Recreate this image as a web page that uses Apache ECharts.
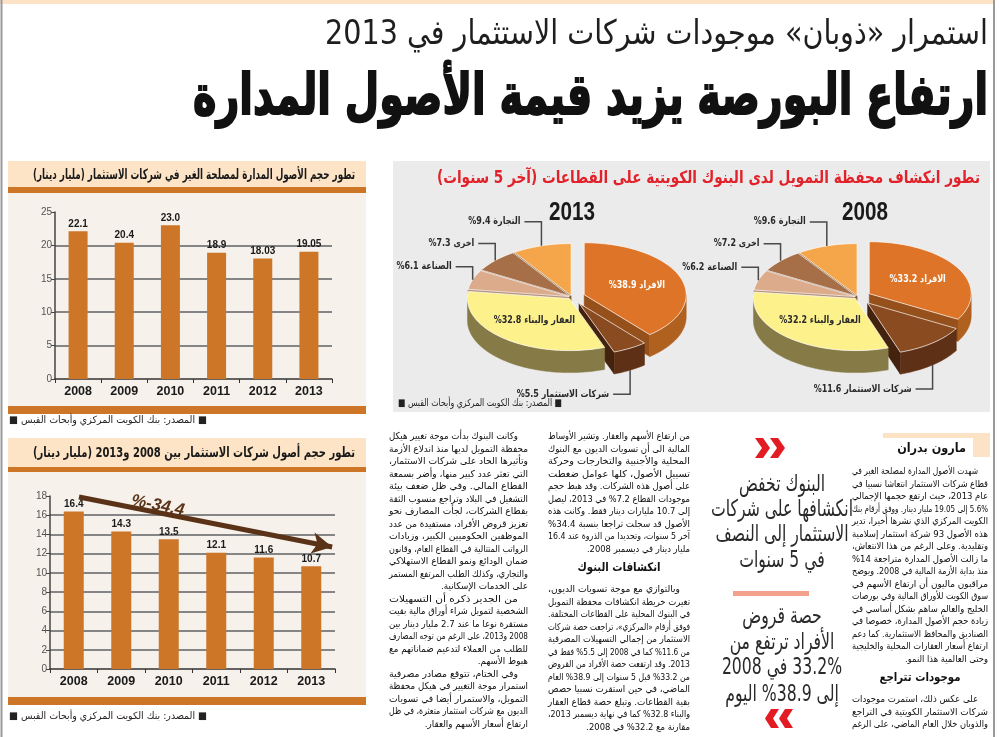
<!DOCTYPE html>
<html><head><meta charset="utf-8">
<script src="https://cdn.jsdelivr.net/npm/echarts@6.0.0/dist/echarts.min.js"></script>
<style>html,body{margin:0;padding:0;background:#fff}#c{width:1000px;height:737px;direction:rtl}</style>
</head><body><div id="c"></div>
<script>
// ---------------- DATA ----------------
const years = ['2008', '2009', '2010', '2011', '2012', '2013'];
const managedAssets = [22.1, 20.4, 23.0, 18.9, 18.03, 19.05];      // مليار دينار
const companyAssets = [16.4, 14.3, 13.5, 12.1, 11.6, 10.7];        // مليار دينار
const managedAxis = [0, 5, 10, 15, 20, 25];
const companyAxis = [0, 2, 4, 6, 8, 10, 12, 14, 16, 18];
const trendArrow = [[0.61, 17.9], [5.94, 12.7]];                    // in data units (hidden value x axis 0..6)
const trendLabelPos = [2.27, 17.0];
const trendLabel = '%-34.4';
const sectors = ['الافراد', 'شركات الاستثمار', 'العقار والبناء', 'الصناعة', 'اخرى', 'التجارة'];
const share2008 = [33.2, 11.6, 32.2, 6.2, 7.2, 9.6];
const share2013 = [38.9, 5.5, 32.8, 6.1, 7.3, 9.4];

const subtitleText = 'استمرار «ذوبان» موجودات شركات الاستثمار في 2013';
const headlineText = 'ارتفاع البورصة يزيد قيمة الأصول المدارة';
const pieTitle = 'تطور انكشاف محفظة التمويل لدى البنوك الكويتية على القطاعات (آخر 5 سنوات)';
const bar1Title = 'تطور حجم الأصول المدارة لمصلحة الغير في شركات الاستثمار (مليار دينار)';
const bar2Title = 'تطور حجم أصول شركات الاستثمار بين 2008 و2013 (مليار دينار)';
const sourceText = '■ المصدر: بنك الكويت المركزي وأبحاث القبس ■';
const authorName = 'مارون بدران';
const quoteTop = ['البنوك تخفض', 'انكشافها على شركات', 'الاستثمار إلى النصف', 'في 5 سنوات'];
const quoteBottom = ['حصة قروض', 'الأفراد ترتفع من', '33.2% في 2008', 'إلى 38.9% اليوم'];

const columnRight = [
  {indent: true, end: true, lines: [
    'شهدت الأصول المدارة لمصلحة الغير في',
    'قطاع شركات الاستثمار انتعاشا نسبيا في',
    'عام 2013، حيث ارتفع حجمها الإجمالي',
    '5.6% إلى 19.05 مليار دينار. ووفق أرقام بنك',
    'الكويت المركزي الذي نشرها أخيرا، تدير',
    'هذه الأصول 93 شركة استثمار إسلامية',
    'وتقليدية. وعلى الرغم من هذا الانتعاش،',
    'ما زالت الأصول المدارة متراجعة 14%',
    'منذ بداية الأزمة المالية في 2008. ويوضح',
    'مراقبون ماليون أن ارتفاع الأسهم في',
    'سوق الكويت للأوراق المالية وفي بورصات',
    'الخليج والعالم ساهم بشكل أساسي في',
    'زيادة حجم الأصول المدارة، خصوصا في',
    'الصناديق والمحافظ الاستثمارية. كما دعم',
    'ارتفاع أسعار العقارات المحلية والخليجية',
    'وحتى العالمية هذا النمو.']},
  {heading: 'موجودات تتراجع'},
  {indent: true, end: false, lines: [
    'على عكس ذلك، استمرت موجودات',
    'شركات الاستثمار الكويتية في التراجع',
    'والذوبان خلال العام الماضي، على الرغم']}
];
const columnB = [
  {indent: false, end: true, lines: [
    'من ارتفاع الأسهم والعقار. وتشير الأوساط',
    'المالية الى أن تسويات الديون مع البنوك',
    'المحلية والأجنبية والتخارجات وحركة',
    'تسييل الأصول، كلها عوامل ضغطت',
    'على أصول هذه الشركات. وقد هبط حجم',
    'موجودات القطاع 7.2% في 2013، ليصل',
    'إلى 10.7 مليارات دينار فقط. وكانت هذه',
    'الأصول قد سجلت تراجعا بنسبة 34.4%',
    'آخر 5 سنوات، وتحديدا من الذروة عند 16.4',
    'مليار دينار في ديسمبر 2008.']},
  {heading: 'انكشافات البنوك'},
  {indent: true, end: true, lines: [
    'وبالتوازي مع موجة تسويات الديون،',
    'تغيرت خريطة انكشافات محفظة التمويل',
    'في البنوك المحلية على القطاعات المختلفة.',
    'فوفق أرقام «المركزي»، تراجعت حصة شركات',
    'الاستثمار من إجمالي التسهيلات المصرفية',
    'من 11.6% كما في 2008 إلى 5.5% فقط في',
    '2013. وقد ارتفعت حصة الأفراد من القروض',
    'من 33.2% قبل 5 سنوات إلى 38.9% العام',
    'الماضي، في حين استقرت نسبيا حصص',
    'بقية القطاعات. وتبلغ حصة قطاع العقار',
    'والبناء 32.8% كما في نهاية ديسمبر 2013،',
    'مقارنة مع 32.2% في 2008.']}
];
const columnA = [
  {indent: true, end: true, lines: [
    'وكانت البنوك بدأت موجة تغيير هيكل',
    'محفظة التمويل لديها منذ اندلاع الأزمة',
    'وتأثيرها الحاد على شركات الاستثمار،',
    'التي تعثر عدد كبير منها، وأضر بسمعة',
    'القطاع المالي. وفي ظل ضعف بيئة',
    'التشغيل في البلاد وتراجع منسوب الثقة',
    'بقطاع الشركات، لجأت المصارف نحو',
    'تعزيز قروض الأفراد، مستفيدة من عدد',
    'الموظفين الحكوميين الكبير، وزيادات',
    'الرواتب المتتالية في القطاع العام، وقانون',
    'ضمان الودائع ونمو القطاع الاستهلاكي',
    'والتجاري، وكذلك الطلب المرتفع المستمر',
    'على الخدمات الإسكانية.']},
  {indent: true, end: true, lines: [
    'من الجدير ذكره أن التسهيلات',
    'الشخصية لتمويل شراء أوراق مالية بقيت',
    'مستقرة نوعا ما عند 2.7 مليار دينار بين',
    '2008 و2013، على الرغم من توجه المصارف',
    'للطلب من العملاء لتدعيم ضماناتهم مع',
    'هبوط الأسهم.']},
  {indent: true, end: true, lines: [
    'وفي الختام، تتوقع مصادر مصرفية',
    'استمرار موجة التغيير في هيكل محفظة',
    'التمويل، والاستمرار أيضا في تسويات',
    'الديون مع شركات استثمار متعثرة، في ظل',
    'ارتفاع أسعار الأسهم والعقار.']}
];

// ---------------- STYLE / HELPERS ----------------
const FA = '"DejaVu Sans", sans-serif';
const FL = '"Liberation Sans", Arial, sans-serif';
const ORANGE = '#cd7628';
const mctx = document.createElement('canvas').getContext('2d');
function measure(str, size, weight, fam, fstyle) {
  mctx.font = (fstyle || 'normal') + ' ' + (weight || 'normal') + ' ' + size + 'px ' + (fam || FA);
  return mctx.measureText(str).width;
}
function T(str, x, y, o) {
  o = o || {};
  const size = o.size || 10, weight = o.weight || 'normal', fam = o.fam || FA, fst = o.fstyle || 'normal';
  let sx = o.scale || 1;
  if (o.fit) sx = o.fit / measure(str, size, weight, fam, fst);
  const al = o.align || 'right';
  const st = {text: str, fill: o.color || '#222', font: fst + ' ' + weight + ' ' + size + 'px ' + fam,
      textAlign: al, align: al, textVerticalAlign: 'middle', verticalAlign: 'middle'};
  if (o.stroke) { st.stroke = o.stroke; st.lineWidth = o.strokeWidth || 1; }
  return {type: 'text', x: x, y: y, scaleX: sx, scaleY: o.scaleY || 1, z: o.z || 10, silent: true, rotation: o.rot || 0, style: st};
}
function R(x, y, w, h, fill, z) {
  return {type: 'rect', z: z == null ? -5 : z, silent: true, shape: {x: x, y: y, width: w, height: h}, style: {fill: fill}};
}
function L(x1, y1, x2, y2, color, w, z) {
  return {type: 'line', z: z || 1, silent: true, shape: {x1: x1, y1: y1, x2: x2, y2: y2}, style: {stroke: color, lineWidth: w}};
}
function chevron(x, y, w, h, t, right) {
  const p = right
    ? [[x, y], [x + t, y], [x + w, y + h / 2], [x + t, y + h], [x, y + h], [x + w - t, y + h / 2]]
    : [[x + w, y], [x + w - t, y], [x, y + h / 2], [x + w - t, y + h], [x + w, y + h], [x + t, y + h / 2]];
  return {type: 'polygon', z: 10, silent: true, shape: {points: p}, style: {fill: '#e31b23'}};
}

const graphics = [];
// page frame
graphics.push(R(0, 0, 993, 4, '#fde3c6'));
graphics.push(L(1.5, 0, 1.5, 737, '#9a9a9a', 2, 2));
graphics.push(L(994, 0, 994, 737, '#9a9a9a', 2, 2));
// headline
graphics.push(T(subtitleText, 988, 35, {size: 34, fit: 663, color: '#1e1e1e'}));
graphics.push(T(headlineText, 988, 99, {size: 56, weight: 'bold', fit: 795, color: '#111', stroke: '#111', strokeWidth: 2}));

// bar panels
function barPanel(yT, yTb, yO, yP, yB, title, srcY) {
  graphics.push(R(8, yT, 358, yTb - yT, '#fde4c6'));
  graphics.push(R(8, yTb, 358, yO - yTb, ORANGE));
  graphics.push(R(8, yO, 358, yP - yO, '#f6f1ea'));
  graphics.push(R(8, yP, 358, yB - yP, ORANGE));
  graphics.push(T(title, 355, (yT + yTb) / 2 + 1, {size: 14, weight: 'bold', fit: 322, color: '#1a1a1a'}));
  graphics.push(T(sourceText, 207, srcY, {size: 10, fit: 198, color: '#222'}));
}
barPanel(161, 187, 193, 406, 414, bar1Title, 420);
barPanel(438, 467, 472, 697, 705, bar2Title, 716);

// pie panel
graphics.push(R(393, 161, 597, 251, '#ebebeb'));
graphics.push(T(pieTitle, 980, 179, {size: 17, weight: 'bold', fit: 543, color: '#e2222a'}));
graphics.push(T('2013', 572, 213, {size: 26, weight: 'bold', fam: FL, fit: 46, align: 'center', color: '#1a1a1a'}));
graphics.push(T('2008', 865, 213, {size: 26, weight: 'bold', fam: FL, fit: 46, align: 'center', color: '#1a1a1a'}));
graphics.push(T(sourceText, 562, 403, {size: 10, fit: 164, color: '#222'}));

// pull quote
graphics.push(chevron(755, 438, 15, 20, 8, true));
graphics.push(chevron(770, 438, 15, 20, 8, true));
graphics.push(chevron(765, 709, 14, 19, 8, false));
graphics.push(chevron(779, 709, 14, 19, 8, false));
const qAll = quoteTop.concat(quoteBottom);
const qScale = Math.min(1, 142 / Math.max.apply(null, qAll.map(s => measure(s, 23))));
const qY = [485, 510, 535, 561, 617, 643, 668, 695];
qAll.forEach((s, k) => graphics.push(T(s, 782, qY[k], {size: 23, scale: qScale, align: 'center', color: '#2a2a2a'})));
graphics.push(R(733, 591, 76, 5, '#f3a08c', 5));

// author box
graphics.push(R(883, 433, 107, 24, '#fde3c6', 5));
graphics.push(R(883, 438, 90, 19, '#ffffff', 6));
graphics.push(T(authorName, 966, 449, {size: 12.5, weight: 'bold', scale: 0.9, color: '#111'}));

// text columns (justified by horizontal scaling of each line)
const BODY = 9.5, STEP = 12.5;
function layoutColumn(blocks, right, width, y0) {
  const fullScales = [];
  blocks.forEach(b => { if (b.lines) b.lines.forEach((ln, k) => {
    const ind = (k === 0 && b.indent) ? 10 : 0;
    if (!(b.end && k === b.lines.length - 1)) fullScales.push((width - ind) / measure(ln, BODY));
  }); });
  fullScales.sort((a, b) => a - b);
  const med = fullScales[Math.floor(fullScales.length / 2)];
  let y = y0;
  blocks.forEach(b => {
    if (b.heading) {
      y += 6;
      graphics.push(T(b.heading, right - width / 2, y, {size: 12, weight: 'bold', scale: 0.85, align: 'center', color: '#111'}));
      y += 22;
      return;
    }
    b.lines.forEach((ln, k) => {
      const ind = (k === 0 && b.indent) ? 10 : 0;
      const isEnd = b.end && k === b.lines.length - 1;
      let sx = (width - ind) / measure(ln, BODY);
      if (isEnd) sx = Math.min(sx, med);
      graphics.push(T(ln, right - ind, y, {size: BODY, scale: sx, color: '#0d0d0d'}));
      y += STEP;
    });
  });
}
layoutColumn(columnRight, 988, 136, 472);
layoutColumn(columnB, 690, 142, 437);
layoutColumn(columnA, 528, 139, 437);

// ---------------- PIES (custom series, pseudo-3D) ----------------
const RX = 102, RY = 52, DEPTH = 22;
const TOP = ['#dd7428', '#8b4b20', '#fdf18c', '#dcab8c', '#a66f48', '#f6a64a'];
const SIDE = ['#b0601f', '#5e3116', '#867b47', '#a98570', '#7a5033', '#be7a32'];
const CUT = ['#96501b', '#43220e', '#736a3c', '#b38f78', '#6a452c', '#8b6230'];
const labelMode = ['in', 'down', 'in', 'up', 'up', 'up'];
const labelDy = [0, 24, 0, -13, -17, -24];
function makePie(values, cx, cy, explode) {
  const total = values.reduce((a, b) => a + b, 0);
  let acc = 0;
  const data = values.map((v, i) => { const s = acc; acc += v; return [v, s, i]; });
  return {
    type: 'custom', coordinateSystem: 'none', silent: true, animation: false, data: data,
    renderItem: function (params, api) {
      const v = api.value(0), s = api.value(1), i = api.value(2);
      const D = Math.PI / 180;
      const a = s / total * 360, b = (s + v) / total * 360, m = (a + b) / 2;
      const e = explode[i];
      const C = [cx + e * Math.sin(m * D), cy - e * Math.cos(m * D) * RY / RX];
      const P = (t, d) => [C[0] + RX * Math.sin(t * D), C[1] - RY * Math.cos(t * D) + (d || 0)];
      const arc = (t0, t1, d) => { const n = Math.max(2, Math.ceil((t1 - t0) / 2)); const p = []; for (let k = 0; k <= n; k++) p.push(P(t0 + (t1 - t0) * k / n, d)); return p; };
      const ch = [];
      ch.push({type: 'polygon', z2: 1000, shape: {points: [C].concat(arc(a, b))},
        style: {fill: TOP[i], stroke: 'rgba(255,255,255,0.85)', lineWidth: 0.8}});
      const lo = Math.max(a, 90), hi = Math.min(b, 270);
      if (hi > lo) {
        const t = arc(lo, hi, 0), bt = arc(lo, hi, DEPTH).reverse();
        const my = (P((lo + hi) / 2)[1]) + DEPTH / 2;
        ch.push({type: 'polygon', z2: 300 + my / 10, shape: {points: t.concat(bt)}, style: {fill: SIDE[i], stroke: SIDE[i], lineWidth: 0.5}});
      }
      const face = t => { const p = P(t); return [C, p, P(t, DEPTH), [C[0], C[1] + DEPTH]]; };
      if (Math.sin(a * D) < -1e-6) { const f = face(a); ch.push({type: 'polygon', z2: 300 + ((f[0][1] + f[1][1]) / 2 + DEPTH / 2) / 10, shape: {points: f}, style: {fill: CUT[i], stroke: CUT[i], lineWidth: 0.5}}); }
      if (Math.sin(b * D) > 1e-6) { const f = face(b); ch.push({type: 'polygon', z2: 300 + ((f[0][1] + f[1][1]) / 2 + DEPTH / 2) / 10, shape: {points: f}, style: {fill: CUT[i], stroke: CUT[i], lineWidth: 0.5}}); }
      const lab = sectors[i] + ' ' + v.toFixed(1) + '%';
      const mode = labelMode[i];
      if (mode === 'in') {
        const r = 0.55;
        ch.push({type: 'text', z2: 1100, x: C[0] + r * RX * Math.sin(m * D), y: C[1] - r * RY * Math.cos(m * D), scaleX: 0.8,
          style: {text: lab, font: 'bold 10px ' + FA, fill: i === 0 ? '#ffffff' : '#2a2a2a', textAlign: 'center', align: 'center', textVerticalAlign: 'middle', verticalAlign: 'middle'}});
      } else {
        const A = mode === 'up' ? P(m) : P(m, DEPTH);
        const ey = A[1] + labelDy[i], fx = A[0] - 17;
        ch.push({type: 'polyline', z2: 1100, shape: {points: [A, [A[0], ey], [fx, ey]]}, style: {stroke: '#4a4a4a', lineWidth: 1.5, fill: null}});
        ch.push({type: 'text', z2: 1100, x: fx - 4, y: ey, scaleX: 0.8,
          style: {text: lab, font: 'bold 10px ' + FA, fill: '#2a2a2a', textAlign: 'right', align: 'right', textVerticalAlign: 'middle', verticalAlign: 'middle'}});
      }
      return {type: 'group', children: ch};
    }
  };
}

// ---------------- OPTION ----------------
const xCat = (gi) => ({gridIndex: gi, type: 'category', data: years,
  axisLine: {lineStyle: {color: '#333', width: 1.5}},
  axisTick: {show: true, length: 4, lineStyle: {color: '#333'}},
  axisLabel: {fontFamily: FL, fontWeight: 'bold', fontSize: 12.5, color: '#1a1a1a', margin: 6}});
const yVal = (gi, ticks) => ({gridIndex: gi, type: 'value', min: ticks[0], max: ticks[ticks.length - 1], interval: ticks[1] - ticks[0],
  axisLine: {show: true, lineStyle: {color: '#444', width: 1.5}},
  axisTick: {show: true, length: 4, lineStyle: {color: '#444'}},
  axisLabel: {fontFamily: FL, fontSize: 10, color: '#555', margin: 3},
  splitLine: {show: true, showMaxLine: false, showMinLine: false, lineStyle: {color: '#858585', width: 2}}});
const barLabel = {show: true, position: 'top', distance: 2, fontFamily: FL, fontWeight: 'bold', fontSize: 10, color: '#1a1a1a',
  formatter: p => { const s = String(p.value); return s.indexOf('.') < 0 ? Number(p.value).toFixed(1) : s; }};

const option = {
  animation: false,
  grid: [{left: 55, top: 212, width: 277, height: 167}, {left: 50, top: 496, width: 285, height: 173}],
  xAxis: [xCat(0), xCat(1), {gridIndex: 1, type: 'value', min: 0, max: 6, show: false}],
  yAxis: [yVal(0, managedAxis), yVal(1, companyAxis)],
  series: [
    {type: 'bar', xAxisIndex: 0, yAxisIndex: 0, data: managedAssets, barWidth: 19, itemStyle: {color: ORANGE}, label: barLabel},
    {type: 'bar', xAxisIndex: 1, yAxisIndex: 1, data: companyAssets, barWidth: 20, itemStyle: {color: ORANGE}, label: barLabel},
    {type: 'line', xAxisIndex: 2, yAxisIndex: 1, data: [], silent: true,
      markLine: {silent: true, symbol: ['none', 'arrow'], symbolSize: [16, 20], animation: false,
        lineStyle: {color: '#5a3217', width: 5, type: 'solid'}, label: {show: false},
        data: [[{coord: trendArrow[0]}, {coord: trendArrow[1]}]]},
      markPoint: {silent: true, symbol: 'rect', symbolSize: 1, itemStyle: {color: 'rgba(0,0,0,0)'}, animation: false,
        label: {show: true, position: 'inside', formatter: '\u202A' + trendLabel + '\u202C', rotate: -11,
          fontFamily: FL, fontWeight: 'bold', fontStyle: 'italic', fontSize: 17, color: '#5a3217'},
        data: [{coord: trendLabelPos}]}},
    makePie(share2013, 572, 297, [13, 14, 4, 3, 3, 3]),
    makePie(share2008, 858, 297, [13, 15, 4, 3, 3, 3])
  ],
  graphic: {elements: graphics}
};
const chart = echarts.init(document.getElementById('c'), null, {renderer: 'canvas'});
chart.setOption(option);
</script></body></html>
